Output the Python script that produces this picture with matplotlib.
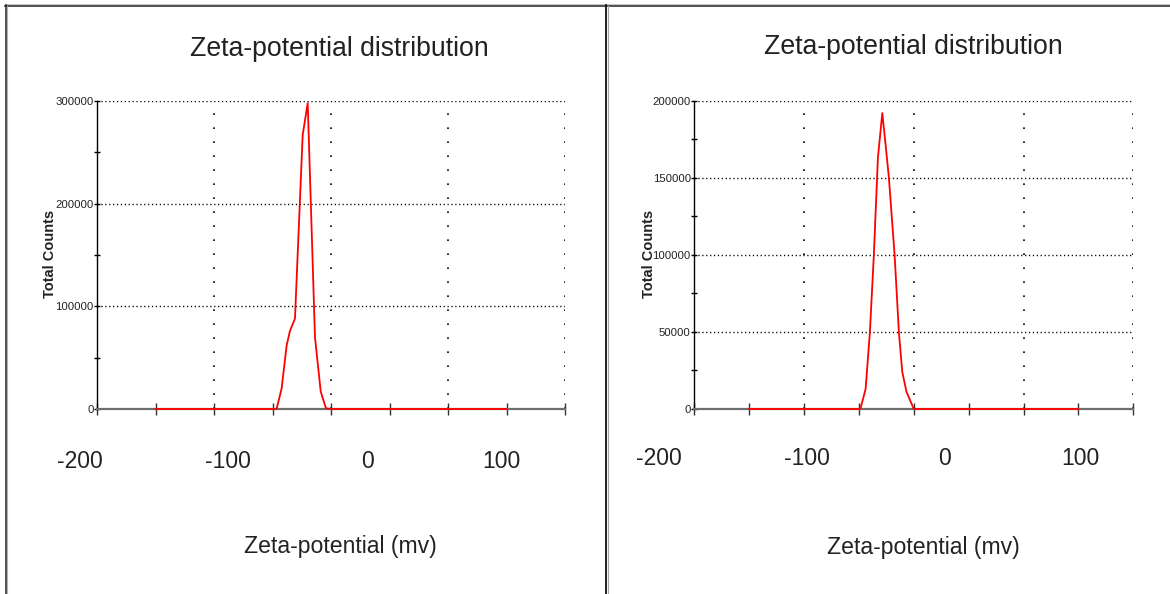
import matplotlib
matplotlib.use("Agg")
import matplotlib.pyplot as plt
from matplotlib.lines import Line2D

# ---------------- data ----------------
title = "Zeta-potential distribution"
x_label = "Zeta-potential (mv)"
y_label = "Total Counts"
x_tick_labels = ["-200", "-100", "0", "100"]

# Panel 1 (left)
zeta1 = [-150, -46.5, -42.2, -37.9, -35.1, -30.8, -24.2, -19.9, -13.7, -8.8, -4.3, 0, 150]
counts1 = [0, 0, 20000, 62000, 76000, 88000, 267000, 298000, 70000, 17000, 700, 0, 0]
y_major1 = [0, 100000, 200000, 300000]
y_minor1 = [50000, 150000, 250000]

# Panel 2 (right)
zeta2 = [-150, -50, -48.5, -43.9, -40, -36.4, -32.7, -28.7, -25.5, -22.7, -17.5, -13.6, -10.5, -6.6, 0, 150]
counts2 = [0, 0, 500, 13000, 50000, 100000, 163000, 192000, 170000, 150000, 100000, 50000, 24000, 11000, 0, 0]
y_major2 = [0, 50000, 100000, 150000, 200000]
y_minor2 = [25000, 75000, 125000, 175000]

x_major = [-200, -100, 0, 100, 200]
x_minor = [-150, -50, 50, 150]
x_lim = (-200, 200)

W, H = 1170, 594
fig = plt.figure(figsize=(W / 100, H / 100), dpi=100)
fig.patch.set_facecolor("white")

FONT = ["Liberation Sans", "DejaVu Sans"]


def px(x0, y0, x1, y1):
    return [x0 / W, 1 - y1 / H, (x1 - x0) / W, (y1 - y0) / H]


panels = [
    dict(rect=px(97, 101, 565, 409), x=zeta1, y=counts1, ymaj=y_major1, ymin=y_minor1,
         ylim=(0, 300000),
         label_pos=[-0.036, 0.280, 0.577, 0.863], label_y=-0.172,
         xlab=(0.519, -0.448), tit=(0.517, 1.168), ylab=(-0.100, 0.503)),
    dict(rect=px(694.3, 100.7, 1133.3, 409), x=zeta2, y=counts2, ymaj=y_major2, ymin=y_minor2,
         ylim=(0, 200000),
         label_pos=[-0.080, 0.257, 0.571, 0.879], label_y=-0.160,
         xlab=(0.521, -0.448), tit=(0.498, 1.175), ylab=(-0.104, 0.503)),
]

for p in panels:
    ax = fig.add_axes(p["rect"])
    ax.set_xlim(*x_lim)
    ax.set_ylim(*p["ylim"])
    ax.set_axisbelow(True)
    for s in ("top", "right"):
        ax.spines[s].set_visible(False)
    ax.spines["left"].set_color("black")
    ax.spines["left"].set_linewidth(1.0)
    ax.spines["bottom"].set_color("#6e6e6e")
    ax.spines["bottom"].set_linewidth(1.6)

    # grid (dotted)
    for gx in x_major[1:]:
        ax.axvline(gx, color="black", lw=1.2, linestyle=(0, (1.0, 7.4)), zorder=1)
    for gy in p["ymaj"][1:]:
        ax.axhline(gy, color="black", lw=1.0, linestyle=(0, (0.9, 1.9)), zorder=1)

    ax.set_xticks(x_major)
    ax.set_xticks(x_minor, minor=True)
    ax.set_xticklabels([])
    ax.tick_params(axis="x", which="both", direction="inout", length=9, width=1.0,
                   color="#333333")
    ax.set_yticks(p["ymaj"])
    ax.set_yticks(p["ymin"], minor=True)
    ax.set_yticklabels([str(v) for v in p["ymaj"]])
    ax.tick_params(axis="y", which="both", direction="inout", length=4, width=1.0,
                   color="black", pad=0.5)
    for t in ax.get_yticklabels():
        t.set_family(FONT)
        t.set_fontsize(8.2)
        t.set_color("#222222")

    ax.plot(p["x"], p["y"], color="#ff0000", lw=1.3, zorder=3, clip_on=False)

    for lab, lx in zip(x_tick_labels, p["label_pos"]):
        ax.text(lx, p["label_y"], lab, transform=ax.transAxes, ha="center", va="center",
                fontsize=16.5, family=FONT, color="#222222")
    ax.text(p["xlab"][0], p["xlab"][1], x_label, transform=ax.transAxes, ha="center",
            va="center", fontsize=16.6, family=FONT, color="#222222")
    ax.text(p["tit"][0], p["tit"][1], title, transform=ax.transAxes, ha="center",
            va="center", fontsize=19.2, family=FONT, color="#222222")
    ax.text(p["ylab"][0], p["ylab"][1], y_label, transform=ax.transAxes, ha="center",
            va="center", rotation=90, fontsize=10.5, fontweight="bold", family=FONT,
            color="#222222")

# frame lines around panels
def fline(xs, ys, color, lw):
    fig.add_artist(Line2D([x / W for x in xs], [1 - y / H for y in ys],
                          transform=fig.transFigure, color=color, lw=lw))

fline([5, W], [4.2, 4.2], "#c8c8c8", 0.8)
fline([5, W], [5.5, 5.5], "#222222", 1.1)
fline([5.5, 5.5], [5, H], "#222222", 1.1)
fline([7, 7], [6, H], "#b0b0b0", 0.8)
fline([605.8, 605.8], [5, H], "#111111", 1.3)
fline([607.6, 607.6], [6, H], "#a8a8a8", 0.9)

fig.savefig("out.png", dpi=100, facecolor="white")
